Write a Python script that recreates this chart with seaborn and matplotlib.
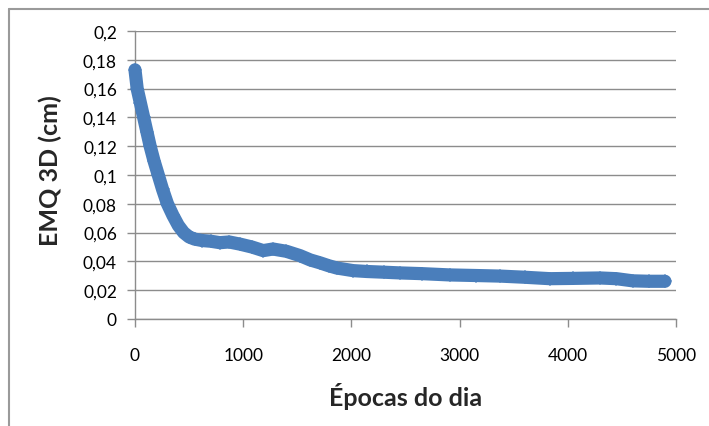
import matplotlib
matplotlib.use('Agg')
import matplotlib.pyplot as plt
from matplotlib.ticker import FuncFormatter
from matplotlib.lines import Line2D
import seaborn as sns
import pandas as pd

# Values (band centre)
epocas = [0, 20, 50, 80, 110, 140, 175, 215, 255, 300, 350, 400, 450, 500, 550,
          620, 700, 785, 870, 970, 1080, 1185, 1275, 1400, 1525, 1620, 1710, 1790,
          1865, 2015, 2140, 2300, 2450, 2650, 2910, 3150, 3373, 3600, 3835, 4050,
          4297, 4450, 4600, 4750, 4898]
emq = [0.173, 0.160, 0.150, 0.140, 0.130, 0.120, 0.110, 0.100, 0.090, 0.080,
       0.072, 0.065, 0.060, 0.057, 0.0555, 0.0545, 0.054, 0.053, 0.0535, 0.052,
       0.050, 0.0475, 0.0486, 0.047, 0.044, 0.041, 0.039, 0.037, 0.0354, 0.0336,
       0.033, 0.0325, 0.032, 0.0315, 0.0306, 0.0302, 0.0298, 0.029, 0.028, 0.0282,
       0.0285, 0.028, 0.0265, 0.0262, 0.0262]

y_ticks = [0, 0.02, 0.04, 0.06, 0.08, 0.1, 0.12, 0.14, 0.16, 0.18, 0.2]
x_ticks = [0, 1000, 2000, 3000, 4000, 5000]

df = pd.DataFrame({'epoca': epocas, 'emq': emq})

sns.set_style('white')
plt.rcParams['font.family'] = ['Lato', 'DejaVu Sans']

fig = plt.figure(figsize=(7.09, 4.27), dpi=100)
ax = fig.add_axes([135 / 709, 1 - 320 / 427, 541 / 709, 288 / 427])

blue = '#4A7EBB'
sns.lineplot(data=df, x='epoca', y='emq', ax=ax, color=blue, linewidth=9.5,
             marker='D', markersize=7.5, markeredgewidth=0, clip_on=False,
             solid_joinstyle='round', solid_capstyle='round', zorder=3)

ax.set_xlim(0, 5000)
ax.set_ylim(0, 0.2)
ax.set_xticks(x_ticks)
ax.set_yticks(y_ticks)
ax.yaxis.set_major_formatter(FuncFormatter(lambda v, p: ('%g' % round(v, 2)).replace('.', ',')))
ax.xaxis.set_major_formatter(FuncFormatter(lambda v, p: '%d' % v))

grid_c = '#8c8c8c'
ax.grid(axis='y', color=grid_c, linewidth=1)
ax.set_axisbelow(True)
for s in ['top', 'right']:
    ax.spines[s].set_visible(False)
for s in ['left', 'bottom']:
    ax.spines[s].set_color(grid_c)
    ax.spines[s].set_linewidth(1)
ax.tick_params(axis='both', direction='out', length=6, width=1, color=grid_c,
               labelsize=12.5, labelcolor='black', left=True, bottom=True)
ax.tick_params(axis='y', pad=7)
ax.tick_params(axis='x', pad=14)

ax.set_xlabel('Épocas do dia', fontsize=18, fontweight='bold')
ax.set_ylabel('EMQ 3D (cm)', fontsize=18, fontweight='bold')
ax.xaxis.set_label_coords(0.5, (320 - 383) / 288)
ax.yaxis.set_label_coords((62 - 135) / 541, 0.52)

# outer chart border (only top and left visible in the crop)
fig.add_artist(Line2D([9 / 709, 1], [1 - 10 / 427, 1 - 10 / 427], transform=fig.transFigure,
                      color='#9a9a9a', linewidth=1.5))
fig.add_artist(Line2D([9 / 709, 9 / 709], [0, 1 - 10 / 427], transform=fig.transFigure,
                      color='#9a9a9a', linewidth=1.5))

fig.savefig('out.png', dpi=100)
